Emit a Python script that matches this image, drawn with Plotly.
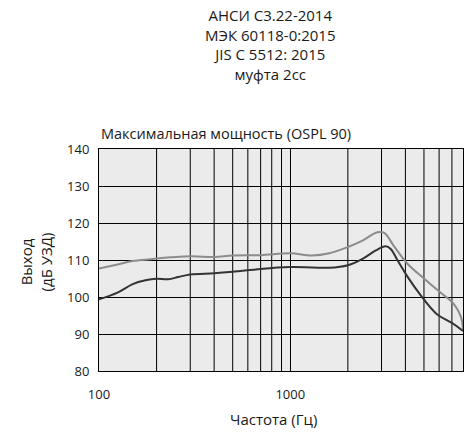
import plotly.graph_objects as go

# frequency response, dB SPL
freq_dark = [100, 125, 150, 175, 200, 230, 260, 300, 400, 500, 700, 1000, 1300, 1600,
             2000, 2400, 2800, 3150, 3350, 3650, 4100, 4800, 5800, 7000, 8000]
spl_dark = [99.4, 101.2, 103.5, 104.5, 104.9, 104.8, 105.4, 106.1, 106.4, 106.8, 107.6, 108.1,
            108.0, 107.9, 108.6, 110.4, 112.6, 113.7, 113.0, 109.8, 105.5, 100.5, 95.5, 93.0, 90.8]

freq_grey = [100, 125, 150, 185, 200, 300, 400, 500, 700, 1000, 1300, 1600, 2000, 2400,
             2850, 3100, 3500, 4100, 5000, 6100, 6900, 7300, 7800, 8000]
spl_grey = [107.7, 108.8, 109.7, 110.2, 110.4, 111.0, 110.8, 111.2, 111.3, 111.8, 111.2, 111.8,
            113.5, 115.3, 117.5, 117.3, 113.6, 109.0, 105.0, 101.2, 99.0, 97.5, 94.7, 91.2]

x_grid = [200, 300, 400, 500, 600, 700, 800, 900, 2000, 3000, 4000, 5000, 6000, 7000]
x_ticks = [100, 1000, 8000]
y_ticks = [80, 90, 100, 110, 120, 130, 140]

header_lines = ["АНСИ С3.22-2014", "МЭК 60118-0:2015", "JIS C 5512: 2015", "муфта 2cc"]

fig = go.Figure()

fig.add_trace(go.Scatter(x=freq_grey, y=spl_grey, mode="lines", line_shape="spline",
                         line=dict(color="#8c8c8c", width=2), showlegend=False))
fig.add_trace(go.Scatter(x=freq_dark, y=spl_dark, mode="lines", line_shape="spline",
                         line=dict(color="#333333", width=2), showlegend=False))

font = "Open Sans, Noto Sans, sans-serif"
txt = "#1a1a1a"

# vertical grid lines (minor decades)
for f in x_grid:
    fig.add_shape(type="line", xref="x", yref="paper", x0=f, x1=f, y0=0, y1=1,
                  line=dict(color="#000000", width=1), layer="below")

# header block
fig.add_annotation(text="<br>".join(header_lines), xref="paper", yref="paper",
                   x=0.472, y=1.471, xanchor="center", yanchor="middle", showarrow=False,
                   align="center", font=dict(family=font, size=15, color=txt))

fig.add_annotation(text="Максимальная мощность (OSPL 90)", xref="paper", yref="paper",
                   x=0, y=1.072, xanchor="left", yanchor="middle", showarrow=False,
                   font=dict(family=font, size=14.5, color=txt))

# axis titles
fig.add_annotation(text="Выход<br>(дБ УЗД)", xref="paper", yref="paper",
                   x=-0.172, y=0.491, xanchor="center", yanchor="middle", textangle=-90,
                   showarrow=False, font=dict(family=font, size=15, color=txt))
fig.add_annotation(text="Частота (Гц)", xref="paper", yref="paper",
                   x=0.48, y=-0.216, xanchor="center", yanchor="middle", showarrow=False,
                   font=dict(family=font, size=15, color=txt))

fig.update_layout(
    width=473, height=432,
    margin=dict(l=99, r=10, t=149, b=61, autoexpand=False),
    paper_bgcolor="#ffffff",
    plot_bgcolor="#ebebeb",
    font=dict(family=font, size=13, color=txt),
    xaxis=dict(type="log", range=[2, 3.90309], tickvals=x_ticks, ticktext=[str(v) for v in x_ticks],
               showgrid=True, gridcolor="#000000", gridwidth=1,
               showline=True, linecolor="#000000", mirror=True, linewidth=1,
               ticks="outside", ticklen=11, tickcolor="rgba(0,0,0,0)", zeroline=False,
               automargin=False),
    yaxis=dict(range=[80, 140], tickvals=y_ticks, showgrid=True, gridcolor="#000000", gridwidth=1,
               showline=True, linecolor="#000000", mirror=True, linewidth=1,
               ticks="outside", ticklen=6, tickcolor="rgba(0,0,0,0)", zeroline=False,
               automargin=False),
)

# drop the default 8px page margin so the figure fills the window
fig.write_html("out.html", config={"displayModeBar": False},
               post_script="document.body.style.margin='0px';")
